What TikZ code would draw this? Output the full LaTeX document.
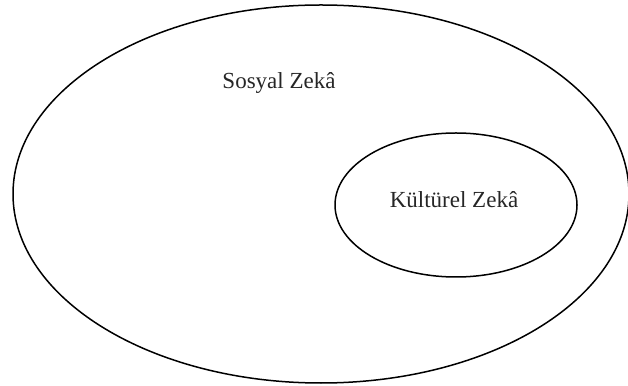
\documentclass[tikz,border=0pt]{standalone}
\usepackage{fontspec}
\setmainfont{Liberation Serif}
\usetikzlibrary{shapes.geometric}
\begin{document}
\begin{tikzpicture}[x=1pt,y=1pt,
  ring/.style={draw=black, line width=1.5pt, ellipse, inner sep=0pt},
  lbl/.style={font=\fontsize{23}{27}\selectfont, text=black!85}]
\useasboundingbox (0,0) rectangle (628,385);
\node[ring, minimum width=616pt, minimum height=378pt] (social) at (321,191) {};
\node[ring, minimum width=242pt, minimum height=144pt] (cultural) at (456,180) {};
\node[lbl] (sociallbl) at (279,302) {Sosyal Zekâ};
\node[lbl] (culturallbl) at (cultural.center) [yshift=5pt,xshift=-2pt] {Kültürel Zekâ};
\end{tikzpicture}
\end{document}
